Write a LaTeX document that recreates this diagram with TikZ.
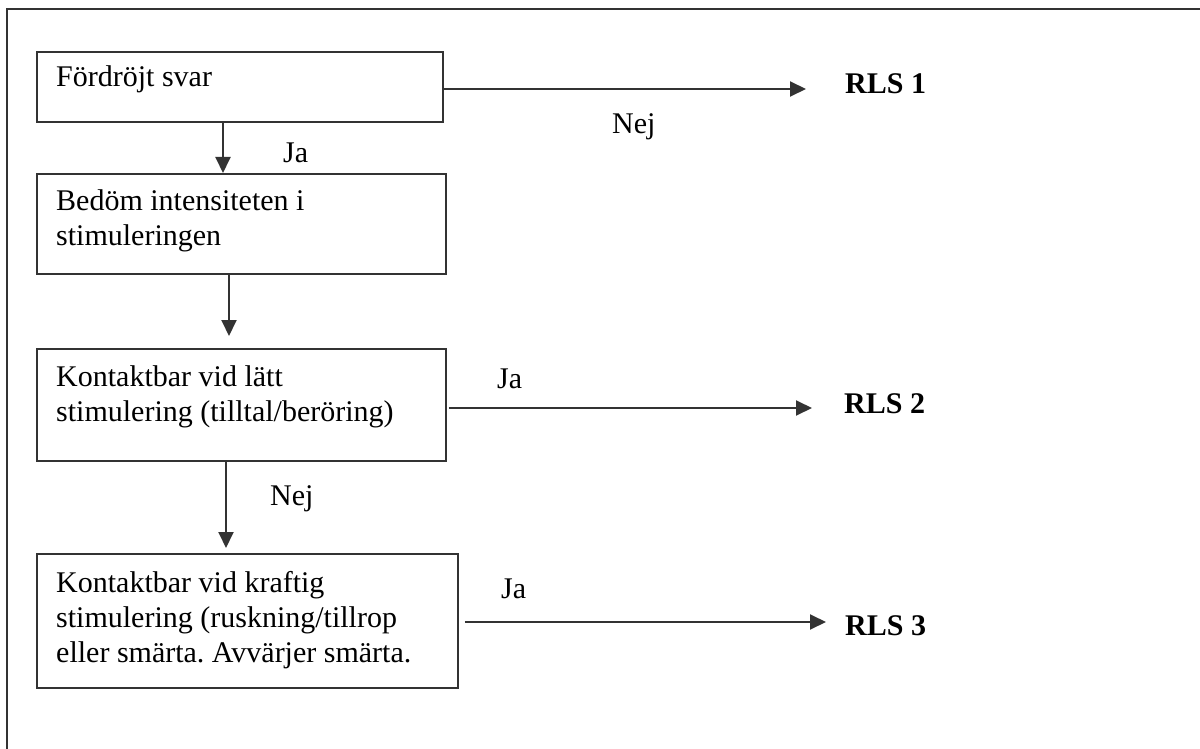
\documentclass[tikz,border=0pt]{standalone}
\usepackage{fontspec}
\setmainfont{Liberation Serif}
\usetikzlibrary{arrows.meta}
\definecolor{ink}{HTML}{333333}
\frenchspacing
\tikzset{
  box/.style={draw=ink, line width=1.9pt, anchor=north west, inner sep=0pt},
  txt/.style={anchor=base west, inner sep=0pt, align=left, font=\fontsize{30}{35}\selectfont},
  res/.style={anchor=base west, inner sep=0pt, font=\fontsize{30}{35}\selectfont\bfseries},
  arr/.style={draw=ink, line width=1.9pt, -{Triangle[length=16pt,width=15pt]}},
}
\begin{document}
\begin{tikzpicture}[x=1pt,y=-1pt]
\useasboundingbox (0,0) rectangle (1200,749);
\fill[white] (0,0) rectangle (1200,749);
% page frame (top and left edges)
\draw[ink, line width=1.9pt] (7,749) -- (7,9) -- (1200,9);

% decision boxes
\node[box, minimum width=406pt, minimum height=70pt] (b1) at (36,51) {};
\node[box, minimum width=409pt, minimum height=100pt] (b2) at (36,173) {};
\node[box, minimum width=409pt, minimum height=112pt] (b3) at (36,348) {};
\node[box, minimum width=421pt, minimum height=134pt] (b4) at (36,553) {};

% box texts, placed by the baseline of their last line
\node[txt] (t1) at (56,87) {Fördröjt svar};
\node[txt] (t2) at (56,245) {Bedöm intensiteten i\\stimuleringen};
\node[txt] (t3) at (56,421) {Kontaktbar vid lätt\\stimulering (tilltal/beröring)};
\node[txt] (t4) at (56,662) {Kontaktbar vid kraftig\\stimulering (ruskning/tillrop\\eller smärta. Avvärjer smärta.};

% outcomes
\node[res] (r1) at (845,94) {RLS 1};
\node[res] (r2) at (844,413) {RLS 2};
\node[res] (r3) at (845,635) {RLS 3};

% arrow labels
\node[txt] (ja1) at (283,163) {Ja};
\node[txt] (nej1) at (612,134) {Nej};
\node[txt] (ja2) at (497,388) {Ja};
\node[txt] (nej2) at (270,505) {Nej};
\node[txt] (ja3) at (501,598) {Ja};

% arrow columns and tips
\coordinate (c1) at (223,0);
\coordinate (c2) at (229,0);
\coordinate (c3) at (226,0);
\coordinate (e1) at (806,89);
\coordinate (e2) at (812,408);
\coordinate (e3) at (826,622);

% vertical flow
\draw[arr] (b1.south -| c1) -- (b2.north -| c1);
\draw[arr] (b2.south -| c2) -- ([yshift=12pt]b3.north -| c2);
\draw[arr] (b3.south -| c3) -- ([yshift=5pt]b4.north -| c3);

% horizontal outcomes
\draw[arr] (b1.east |- e1) -- (e1);
\draw[arr] ([xshift=2pt]b3.east |- e2) -- (e2);
\draw[arr] ([xshift=6pt]b4.east |- e3) -- (e3);
\end{tikzpicture}
\end{document}
